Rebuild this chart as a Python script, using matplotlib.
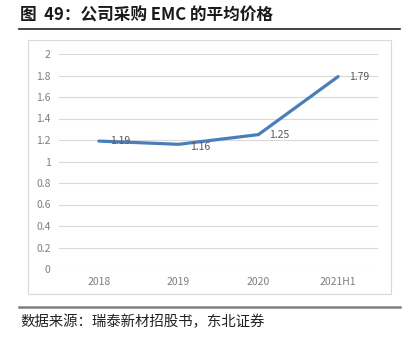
import matplotlib.pyplot as plt
from matplotlib.patches import Rectangle
from matplotlib.lines import Line2D

plt.rcParams['font.family'] = ['Noto Sans CJK SC', 'DejaVu Sans']

years = ['2018', '2019', '2020', '2021H1']
price = [1.19, 1.16, 1.25, 1.79]
yticks = [0, 0.2, 0.4, 0.6, 0.8, 1, 1.2, 1.4, 1.6, 1.8, 2]
ytick_labels = ['0', '0.2', '0.4', '0.6', '0.8', '1', '1.2', '1.4', '1.6', '1.8', '2']

W, H = 414, 339
fig = plt.figure(figsize=(W / 100, H / 100), dpi=100)

# title and rules
fig.text(20 / W, 1 - 16 / H, '图  49：公司采购 EMC 的平均价格', fontsize=12,
         fontweight='bold', va='center', ha='left', color='#1a1a1a')
fig.add_artist(Line2D([19 / W, 400 / W], [1 - 29 / H, 1 - 29 / H],
                      color='#222222', lw=1.2))
fig.add_artist(Line2D([19 / W, 400 / W], [1 - 307 / H, 1 - 307 / H],
                      color='#7f7f7f', lw=1.8))
fig.text(20 / W, 1 - 322 / H, '数据来源：瑞泰新材招股书，东北证券', fontsize=10.4,
         va='center', ha='left', color='#222222')

# chart frame
fig.add_artist(Rectangle((28.5 / W, 1 - 294 / H), (391 - 28.5) / W, (294 - 40) / H,
                         transform=fig.transFigure, fill=False,
                         edgecolor='#d9d9d9', lw=0.8))

ax = fig.add_axes([59 / W, 70 / H, 319 / W, 215 / H])
x = [i + 0.5 for i in range(len(years))]
ax.plot(x, price, color='#4a7ebb', lw=2.3, solid_capstyle='round', zorder=3)

offsets = [(8, 0), (8, -2), (8, 0), (8, 0)]
for xi, v, (dx, dy) in zip(x, price, offsets):
    ax.annotate(f'{v:.2f}', (xi, v), xytext=(dx, dy), textcoords='offset points',
                fontsize=7.5, color='#595959', va='center', ha='left', zorder=4)

ax.set_xlim(0, len(years))
ax.set_ylim(0, 2)
ax.set_yticks(yticks)
ax.set_yticklabels(ytick_labels)
ax.set_xticks(x)
ax.set_xticklabels(years)
ax.grid(axis='y', color='#d9d9d9', lw=0.8)
ax.set_axisbelow(True)
for s in ax.spines.values():
    s.set_visible(False)
ax.tick_params(length=0, labelsize=7.5, labelcolor='#7f7f7f')
ax.tick_params(axis='y', pad=6)
ax.tick_params(axis='x', pad=6)

fig.savefig('out.png', dpi=100)
